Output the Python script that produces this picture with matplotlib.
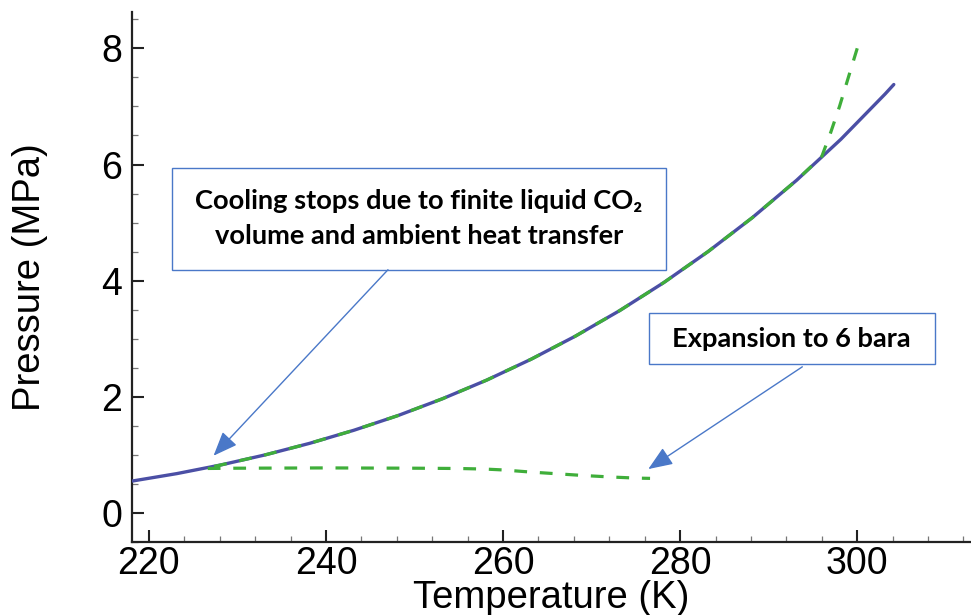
import numpy as np
import matplotlib
matplotlib.use("Agg")
import matplotlib.pyplot as plt
from matplotlib.patches import Rectangle
from matplotlib.ticker import MultipleLocator

# ── data ──────────────────────────────────────────────────────────────────────
# CO2 saturation line (K, MPa)
sat_T = [218.15, 223.15, 228.15, 233.15, 238.15, 243.15, 248.15, 253.15, 258.15,
         263.15, 268.15, 273.15, 278.15, 283.15, 288.15, 293.15, 298.15, 303.15, 304.13]
sat_P = [0.555, 0.682, 0.832, 1.005, 1.203, 1.428, 1.682, 1.970, 2.291,
         2.649, 3.046, 3.485, 3.969, 4.502, 5.086, 5.729, 6.434, 7.214, 7.377]

# process path (dashed): expansion along the saturation line, then flat
path_T = [300.0, 299.0, 298.0, 297.0, 296.0, 293.15, 288.15, 283.15, 278.15, 273.15,
          268.15, 263.15, 258.15, 253.15, 248.15, 243.15, 238.15, 233.15, 228.15, 226.3,
          230.0, 240.0, 250.0, 255.0, 258.0, 260.0, 263.0, 266.0, 269.0, 272.0, 275.0, 276.6]
path_P = [8.0, 7.5, 7.0, 6.55, 6.14, 5.729, 5.086, 4.502, 3.969, 3.485,
          3.046, 2.649, 2.291, 1.970, 1.682, 1.428, 1.203, 1.005, 0.832, 0.77,
          0.775, 0.78, 0.775, 0.77, 0.76, 0.745, 0.71, 0.68, 0.65, 0.625, 0.605, 0.6]

xticks = [220, 240, 260, 280, 300]
yticks = [0, 2, 4, 6, 8]

BLUE = "#4b4fa5"
GREEN = "#3fae3a"
BOX = "#4a78c8"

plt.rcParams["font.family"] = ["Liberation Sans", "DejaVu Sans"]

fig = plt.figure(figsize=(9.71, 6.15), dpi=100)
ax = fig.add_axes([0.1356, 0.1182, 0.8644, 0.8628])

ax.plot(sat_T, sat_P, color=BLUE, lw=2.4, solid_capstyle="round", zorder=3)
ax.plot(path_T, path_P, color=GREEN, lw=2.3, linestyle=(0, (4, 4)), zorder=4)

ax.set_xlim(218.05, 312.85)
ax.set_ylim(-0.5, 8.63)

ax.set_xticks(xticks)
ax.set_yticks(yticks)
ax.xaxis.set_minor_locator(MultipleLocator(4))
ax.yaxis.set_minor_locator(MultipleLocator(0.5))

for s in ["top", "right"]:
    ax.spines[s].set_visible(False)
for s in ["left", "bottom"]:
    ax.spines[s].set_linewidth(1.6)
    ax.spines[s].set_color("#222222")

ax.tick_params(which="major", direction="in", length=8.5, width=1.5,
               labelsize=27, color="#222222", pad=7)
ax.tick_params(which="minor", direction="in", length=4.5, width=0.9, color="#777777")
ax.tick_params(axis="x", which="major", pad=3)

ax.set_xlabel("Temperature (K)", fontsize=27.5, labelpad=-2)
ax.set_ylabel("Pressure (MPa)", fontsize=27.5, labelpad=38)

# ── annotations ──────────────────────────────────────────────────────────────
ann_font = dict(family=["Lato", "DejaVu Sans"], fontweight="bold", fontsize=19.6)

ax.add_patch(Rectangle((222.55, 4.19), 278.45 - 222.55, 5.94 - 4.19,
                       facecolor="white", edgecolor=BOX, lw=1.0, zorder=5))
ax.text(250.5, 5.07, "Cooling stops due to finite liquid CO\u2082\nvolume and ambient heat transfer",
        ha="center", va="center", linespacing=1.55, zorder=6, **ann_font)

ax.add_patch(Rectangle((276.5, 2.565), 308.77 - 276.5, 3.44 - 2.565,
                       facecolor="white", edgecolor=BOX, lw=1.0, zorder=5))
ax.text(292.6, 3.0, "Expansion to 6 bara", ha="center", va="center", zorder=6, **ann_font)

arrow = dict(arrowstyle="-|>,head_length=1.5,head_width=0.6", color=BOX, lw=1.0,
             shrinkA=0, shrinkB=0)
ax.annotate("", xy=(227.3, 0.99), xytext=(247.0, 4.19), arrowprops=arrow, zorder=6)
ax.annotate("", xy=(276.4, 0.76), xytext=(293.8, 2.52), arrowprops=arrow, zorder=6)

fig.savefig("out.png", dpi=100)
